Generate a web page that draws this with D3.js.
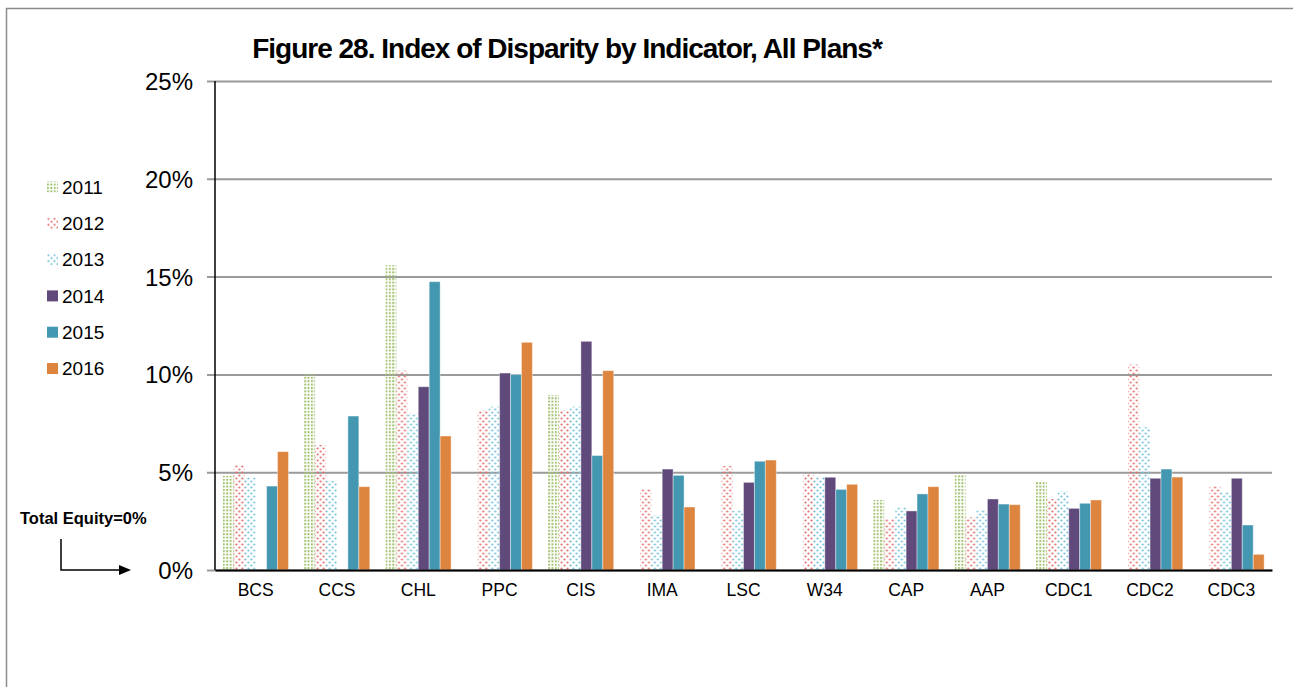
<!DOCTYPE html>
<html>
<head>
<meta charset="utf-8">
<script src="https://cdn.jsdelivr.net/npm/d3@7"></script>
<style>
  body { margin: 0; background: #fff; overflow: hidden; }
  svg { display: block; }
  text { font-family: "Liberation Sans", Arial, sans-serif; }
</style>
</head>
<body>
<div id="wrapper"></div>
<script>
// data
const indicators = ["BCS", "CCS", "CHL", "PPC", "CIS", "IMA", "LSC", "W34", "CAP", "AAP", "CDC1", "CDC2", "CDC3"]
const years = ["2011", "2012", "2013", "2014", "2015", "2016"]
const v2011 = [4.82, 10.0, 15.58, 0, 8.95, 0, 0, 0, 3.58, 4.86, 4.5, 0, 0]
const v2012 = [5.37, 6.39, 10.19, 8.18, 8.18, 4.14, 5.32, 4.94, 2.61, 2.69, 3.63, 10.5, 4.29]
const v2013 = [4.74, 4.55, 8.01, 8.35, 8.35, 2.81, 3.03, 4.77, 3.2, 3.07, 4.04, 7.3, 4.0]
const v2014 = [0, 0, 9.37, 10.07, 11.69, 5.16, 4.48, 4.74, 3.02, 3.63, 3.15, 4.69, 4.69]
const v2015 = [4.29, 7.87, 14.74, 9.99, 5.85, 4.84, 5.56, 4.12, 3.89, 3.37, 3.41, 5.16, 2.3]
const v2016 = [6.05, 4.26, 6.85, 11.64, 10.19, 3.22, 5.62, 4.38, 4.26, 3.34, 3.58, 4.75, 0.8]
const yTicks = [0, 5, 10, 15, 20, 25]

const series = [v2011, v2012, v2013, v2014, v2015, v2016]

// 1. dimensions
const dimensions = {
  width: 1293,
  height: 687,
  margin: { top: 81, right: 21, bottom: 117, left: 215 }
}
dimensions.boundedWidth = dimensions.width - dimensions.margin.left - dimensions.margin.right
dimensions.boundedHeight = dimensions.height - dimensions.margin.top - dimensions.margin.bottom

// 2. canvas
const svg = d3.select("#wrapper")
  .append("svg")
    .attr("width", dimensions.width)
    .attr("height", dimensions.height)

// patterns for the dotted years
const defs = svg.append("defs")
const p11 = defs.append("pattern")
    .attr("id", "p2011")
    .attr("patternUnits", "userSpaceOnUse")
    .attr("width", 3.4).attr("height", 3.4)
p11.append("rect").attr("width", 2).attr("height", 2).attr("fill", "#a4c274")

const dotPattern = (id, color) => {
  const p = defs.append("pattern")
      .attr("id", id)
      .attr("patternUnits", "userSpaceOnUse")
      .attr("width", 6).attr("height", 6)
  p.append("circle").attr("cx", 1.5).attr("cy", 1.5).attr("r", 1.1).attr("fill", color)
  p.append("circle").attr("cx", 4.5).attr("cy", 4.5).attr("r", 1.1).attr("fill", color)
}
dotPattern("p2012", "#e06e6b")
dotPattern("p2013", "#6ec0da")

const fills = ["url(#p2011)", "url(#p2012)", "url(#p2013)", "#604a7b", "#4397b0", "#dd843e"]

// outer chart frame
svg.append("rect")
    .attr("x", 6.5).attr("y", 8.5)
    .attr("width", 1400).attr("height", 800)
    .attr("fill", "none")
    .attr("stroke", "#8c8c8c")
    .attr("stroke-width", 1.5)

const bounds = svg.append("g")
    .attr("transform", `translate(${dimensions.margin.left},${dimensions.margin.top})`)

// 3. scales
const x0 = d3.scaleBand()
  .domain(indicators)
  .range([0, dimensions.boundedWidth])
  .paddingInner(0.193)
  .paddingOuter(0.0965)

const x1 = d3.scaleBand()
  .domain(years)
  .range([0, x0.bandwidth()])

const yScale = d3.scaleLinear()
  .domain([0, 25])
  .range([dimensions.boundedHeight, 0])

// gridlines
const yAxisGenerator = d3.axisLeft(yScale)
  .tickValues(yTicks)
  .tickSize(-dimensions.boundedWidth)
  .tickFormat(d => d + "%")
const yAxis = bounds.append("g").call(yAxisGenerator)
yAxis.select(".domain").remove()
yAxis.selectAll(".tick line")
    .attr("x1", -8)
    .attr("stroke", "#9a9a9a")
    .attr("stroke-width", 2)
yAxis.selectAll(".tick text")
    .attr("x", -22)
    .attr("dy", "0.35em")
    .style("font-size", "24px")
    .attr("fill", "#000")

// 4. bars
const groups = bounds.selectAll(".group")
  .data(indicators)
  .join("g")
    .attr("class", "group")
    .attr("transform", d => `translate(${x0(d)},0)`)

groups.selectAll("rect")
  .data((d, i) => years.map((yr, j) => ({ year: yr, value: series[j][i], j })))
  .join("rect")
    .filter(d => d.value > 0)
    .attr("x", d => x1(d.year))
    .attr("y", d => yScale(d.value))
    .attr("width", x1.bandwidth())
    .attr("height", d => dimensions.boundedHeight - yScale(d.value))
    .attr("fill", d => fills[d.j])
    .attr("stroke", d => d.j > 2 ? "#ffffff" : "none")
    .attr("stroke-opacity", 0.4)
    .attr("stroke-width", 1)

// axes lines
bounds.append("line")
    .attr("x1", 0).attr("x2", 0)
    .attr("y1", 0).attr("y2", dimensions.boundedHeight)
    .attr("stroke", "#000")
    .attr("stroke-width", 1.5)

const xAxisGenerator = d3.axisBottom(x0).tickSize(0)
const xAxis = bounds.append("g")
    .attr("transform", `translate(0,${dimensions.boundedHeight})`)
    .call(xAxisGenerator)
xAxis.select(".domain")
    .attr("stroke", "#000")
    .attr("stroke-width", 2)
xAxis.selectAll(".tick text")
    .attr("y", 14)
    .attr("dy", "0.71em")
    .style("font-size", "17.5px")
    .attr("fill", "#000")

// 5. peripherals
svg.append("text")
    .attr("x", 567)
    .attr("y", 58)
    .attr("text-anchor", "middle")
    .style("font-size", "28px")
    .style("font-weight", "bold")
    .style("letter-spacing", "-1px")
    .text("Figure 28. Index of Disparity by Indicator, All Plans*")

const legend = svg.append("g")
    .attr("transform", "translate(47,187)")
const legendItems = legend.selectAll("g")
  .data(years)
  .join("g")
    .attr("transform", (d, i) => `translate(0,${i * 36.3})`)
legendItems.append("rect")
    .attr("x", 0).attr("y", -5.5)
    .attr("width", 11).attr("height", 11)
    .attr("fill", (d, i) => fills[i])
legendItems.append("text")
    .attr("x", 15)
    .attr("dy", "0.36em")
    .style("font-size", "19px")
    .text(d => d)

svg.append("text")
    .attr("x", 20)
    .attr("y", 524)
    .style("font-size", "16.5px")
    .style("font-weight", "bold")
    .text("Total Equity=0%")

svg.append("path")
    .attr("d", "M61,539V570H120")
    .attr("fill", "none")
    .attr("stroke", "#000")
    .attr("stroke-width", 1.5)
svg.append("path")
    .attr("d", "M119,565L131,570L119,575Z")
    .attr("fill", "#000")
</script>
</body>
</html>
